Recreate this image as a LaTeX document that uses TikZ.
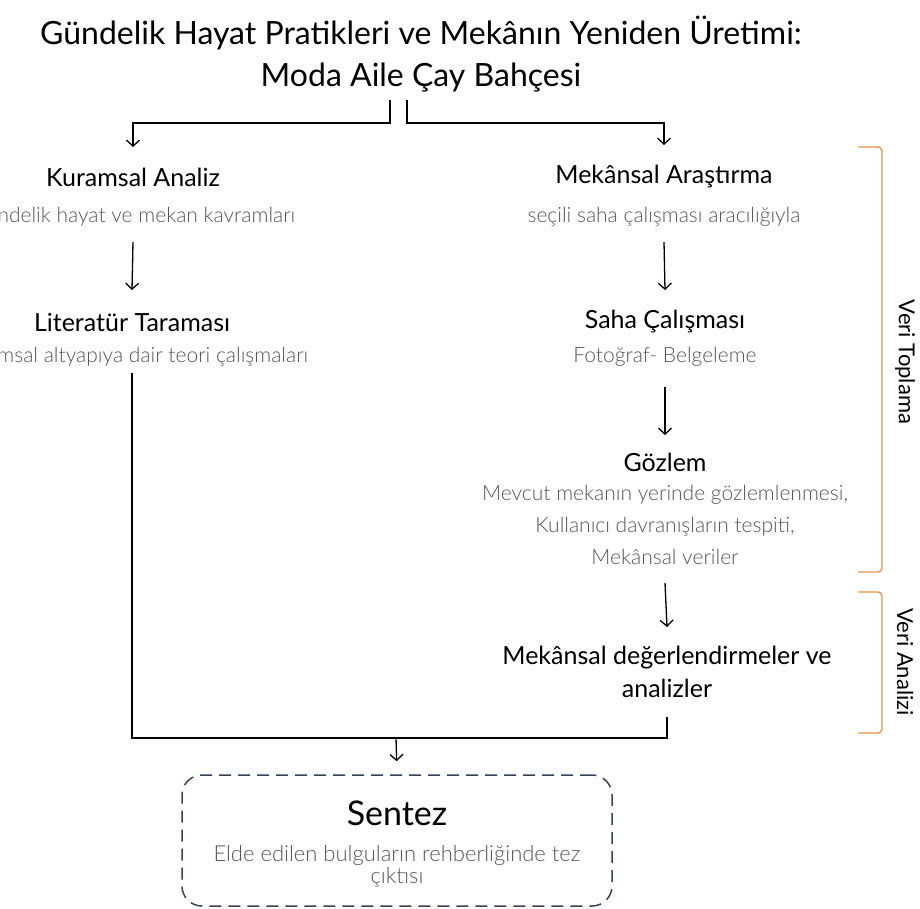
\documentclass[tikz,border=0pt]{standalone}
\usepackage{fontspec}
\setmainfont{Lato}
\newfontfamily\ince{Lato Light}
\usetikzlibrary{arrows.meta}
\definecolor{turuncu}{HTML}{E8914A}
\definecolor{lacivert}{HTML}{34435A}
\definecolor{gri}{HTML}{555555}

\begin{document}
\begin{tikzpicture}[x=1pt, y=-1pt,
  baslik/.style = {font=\fontsize{25}{33}\selectfont, inner sep=0pt, align=center},
  aciklama/.style = {font=\ince\fontsize{21}{32}\selectfont, text=gri, inner sep=0pt, align=center},
  ok/.style = {-{Straight Barb[length=6pt,width=13pt]}, line width=1.3pt},
  parantez/.style = {draw=turuncu, line width=1.3pt, rounded corners=4pt},
  line width=1.3pt]
\useasboundingbox (0,0) rectangle (920,908);

\node[font=\fontsize{32}{42}\selectfont, align=center] (0) at (421,54) {Gündelik Hayat Pratikleri ve Mekânın Yeniden Üretimi:\\Moda Aile Çay Bahçesi};

\node[baslik] (1) at (133,177) {Kuramsal Analiz};
\node[aciklama] (1a) at (133,217) {Gündelik hayat ve mekan kavramları};
\node[baslik] (2) at (132,322) {Literatür Taraması};
\node[aciklama] (2a) at (132,357) {Kuramsal altyapıya dair teori çalışmaları};

\node[baslik] (3) at (664,177) {Mekânsal Araştırma};
\node[aciklama] (3a) at (664,217) {seçili saha çalışması aracılığıyla};
\node[baslik] (4) at (665,322) {Saha Çalışması};
\node[aciklama] (4a) at (665,357) {Fotoğraf- Belgeleme};
\node[baslik] (5) at (665,462) {Gözlem};
\node[aciklama] (5a) at (665,525) {Mevcut mekanın yerinde gözlemlenmesi,\\Kullanıcı davranışların tespiti,\\Mekânsal veriler};
\node[baslik] (6) at (667,672) {Mekânsal değerlendirmeler ve\\analizler};

\node[draw=lacivert, dash pattern=on 12pt off 7pt, line width=1.5pt, rounded corners=20pt, minimum width=430pt, minimum height=131pt] (7) at (397,840.5) {};
\node[font=\fontsize{34}{36}\selectfont, inner sep=0pt] (7b) at (397,813) {Sentez};
\node[font=\ince\fontsize{22}{22}\selectfont, text=gri, align=center, inner sep=0pt] (7c) at (397,866) {Elde edilen bulguların rehberliğinde tez\\çıktısı};

% baslik ayrimi
\coordinate (c1) at (390,100);
\coordinate (c2) at (407,100);
\draw[ok] (c1) -- ++(0,23) -| ([yshift=30pt]1.center);
\draw[ok] (c2) -- ++(0,23) -| ([yshift=32pt]3.center);

\draw[ok] ([yshift=-25pt]1a.center) -- ([yshift=32pt]2.center);
\draw[ok] ([yshift=-25pt]3a.center) -- ([yshift=32pt]4.center);
\draw[ok] ([yshift=-30pt]4a.center) -- ([yshift=27pt]5.center);
\draw[ok] ([yshift=-58pt]5a.center) -- ([yshift=45pt]6.center);

% birlesme
\coordinate (m) at (396,738);
\draw ([yshift=-16pt]2a.center) |- (m);
\draw ([yshift=-45pt]6.center) |- (m);
\draw[ok, shorten >=13pt] (m) -- (7.north);

% veri toplama / analizi
\draw[parantez] (858,147) -| (882,572) -- (858,572);
\draw[parantez] (858,592) -| (882,733) -- (858,733);
\node[font=\fontsize{22}{22}\selectfont, rotate=-90] (8) at (905,362) {Veri Toplama};
\node[font=\fontsize{22}{22}\selectfont, rotate=-90] (9) at (905,662) {Veri Analizi};

\end{tikzpicture}
\end{document}
